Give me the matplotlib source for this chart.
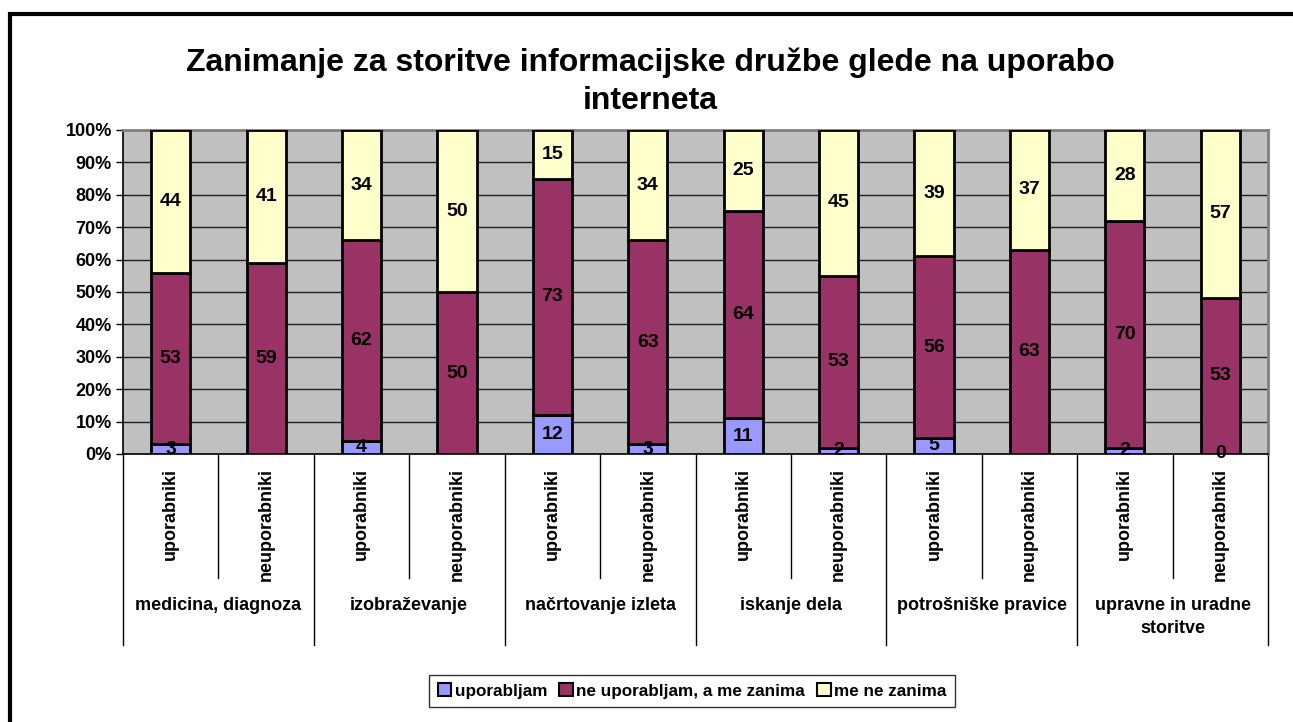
import matplotlib
matplotlib.use("Agg")
import matplotlib.pyplot as plt
import numpy as np
from matplotlib.patches import Rectangle, Patch
from matplotlib.lines import Line2D

plt.rcParams['font.family'] = ['Liberation Sans', 'DejaVu Sans']
plt.rcParams['font.weight'] = 'bold'

title = "Zanimanje za storitve informacijske družbe glede na uporabo\ninterneta"
groups = ["medicina, diagnoza", "izobraževanje", "načrtovanje izleta",
          "iskanje dela", "potrošniške pravice", "upravne in uradne\nstoritve"]
subcats = ["uporabniki", "neuporabniki"] * 6
series_names = ["uporabljam", "ne uporabljam, a me zanima", "me ne zanima"]
uporabljam = [3, None, 4, None, 12, 3, 11, 2, 5, None, 2, 0]
ne_uporabljam = [53, 59, 62, 50, 73, 63, 64, 53, 56, 63, 70, 53]
me_ne_zanima = [44, 41, 34, 50, 15, 34, 25, 45, 39, 37, 28, 57]
colors = ["#9999FF", "#993366", "#FFFFCC"]

W, H = 1293, 722
fig = plt.figure(figsize=(W / 100, H / 100), dpi=100)

# outer border
fig.add_artist(Rectangle((10 / W, -0.1), 1.2, (722 - 14) / H + 0.1, transform=fig.transFigure,
                         fill=False, edgecolor='black', linewidth=3))

x0, x1, y0, y1 = 123, 1268, 130, 454
ax = fig.add_axes([x0 / W, (H - y1) / H, (x1 - x0) / W, (y1 - y0) / H])
ax.set_facecolor("#C0C0C0")

series = [uporabljam, ne_uporabljam, me_ne_zanima]
vals = np.array([[np.nan if v is None else v for v in s] for s in series], dtype=float)
totals = np.nansum(vals, axis=0)
pct = np.nan_to_num(vals) / totals * 100
n = len(subcats)
x = np.arange(n)
bottom = np.zeros(n)
for i, s in enumerate(series):
    ax.bar(x, pct[i], 0.41, bottom=bottom, color=colors[i], edgecolor='black',
           linewidth=2, zorder=3)
    for j in range(n):
        if s[j] is not None:
            ax.text(x[j], bottom[j] + pct[i][j] / 2, f"{s[j]}", ha='center', va='center',
                    fontsize=14, fontweight='bold', zorder=5)
    bottom += pct[i]

ax.set_xlim(-0.5, n - 0.5)
ax.set_ylim(0, 100)
ax.set_yticks(np.arange(0, 101, 10))
ax.set_yticklabels([f"{v}%" for v in range(0, 101, 10)], fontsize=13, fontweight='bold')
ax.yaxis.grid(True, color='#202020', linewidth=1, zorder=1)
ax.set_axisbelow(True)
ax.tick_params(axis='y', length=5, width=1, pad=3)
ax.set_xticks(x)
ax.set_xticklabels(subcats, rotation=90, fontsize=13, fontweight='bold', va='top')
ax.tick_params(axis='x', length=0, pad=10)
for sp in ['left', 'bottom']:
    ax.spines[sp].set_color('black')
    ax.spines[sp].set_linewidth(1.2)
for sp in ['top', 'right']:
    ax.spines[sp].set_color('#808080')
    ax.spines[sp].set_linewidth(2)

trans = ax.get_xaxis_transform()
ph = y1 - y0
inner_end = -(578 - y1) / ph
outer_end = -(645 - y1) / ph
for k in range(n + 1):
    xv = k - 0.5
    end = outer_end if k % 2 == 0 else inner_end
    ax.add_line(Line2D([xv, xv], [0, end], transform=trans, color='black',
                       linewidth=1, clip_on=False))
for g, name in enumerate(groups):
    ax.text(2 * g + 0.5, -(597 - y1) / ph, name, transform=trans, ha='center', va='top',
            fontsize=13, fontweight='bold', linespacing=1.45)

fig.text(650 / W, 1 - 47 / H, title, ha='center', va='top', fontsize=23,
         fontweight='bold', linespacing=1.38)

handles = [Patch(facecolor=c, edgecolor='black', linewidth=1.5) for c in colors]
leg = fig.legend(handles, series_names, loc='center', bbox_to_anchor=(692 / W, 1 - 691 / H),
                 ncol=3, frameon=True, fancybox=False, edgecolor='black',
                 prop={'size': 12.3, 'weight': 'bold'}, handlelength=0.8, handleheight=0.8,
                 handletextpad=0.2, columnspacing=0.7, borderpad=0.5)
leg.get_frame().set_linewidth(1)

fig.savefig("out.png", dpi=100)
